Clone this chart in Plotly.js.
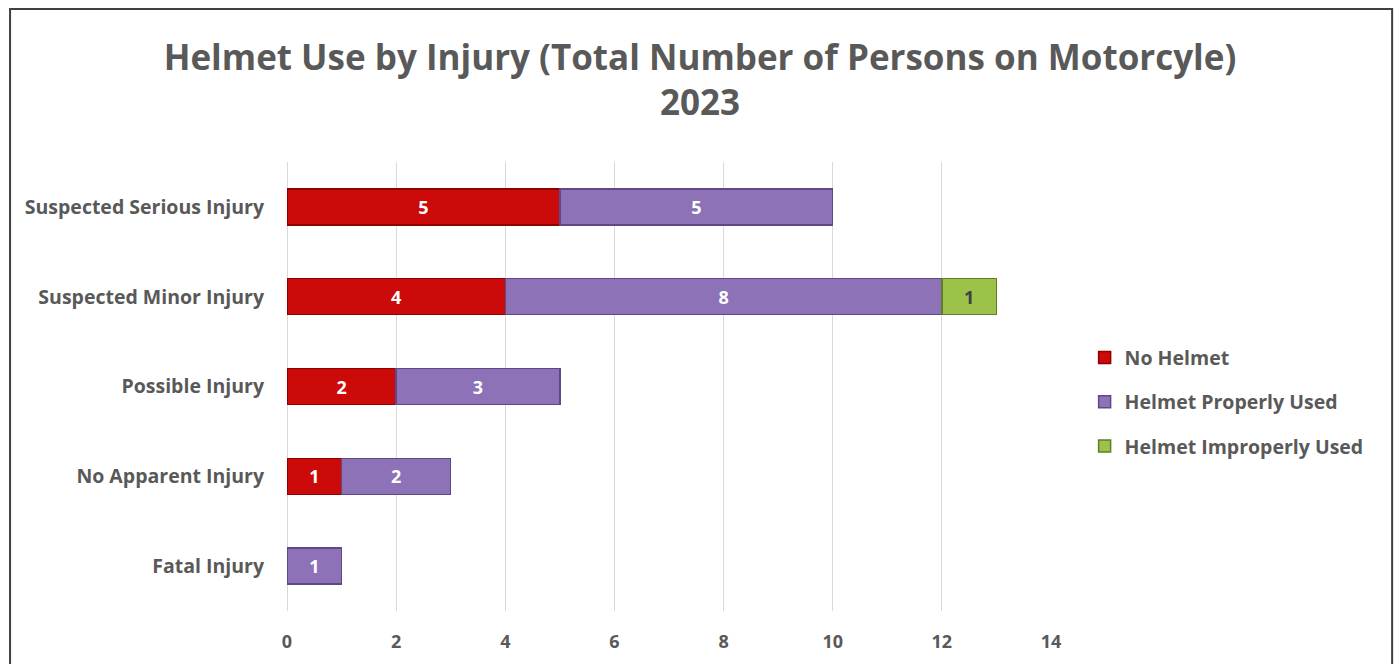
<!DOCTYPE html>
<html><head><meta charset="utf-8">
<script src="https://cdn.plot.ly/plotly-3.0.1.min.js"></script>
<style>html,body{margin:0;padding:0;background:#fff;}#chart{width:1400px;height:664px;}</style>
</head><body><div id="chart"></div>
<script>
const categories = ["Fatal Injury","No Apparent Injury","Possible Injury","Suspected Minor Injury","Suspected Serious Injury"];
const noHelmet = [null,1,2,4,5];
const helmetProper = [1,2,3,8,5];
const helmetImproper = [null,null,null,1,null];
const seriesNames = ["No Helmet","Helmet Properly Used","Helmet Improperly Used"];
const xTicks = [0,2,4,6,8,10,12,14];

const FONT = "Open Sans, Lato, sans-serif";
function mk(vals, name, color, line, textColor){
  return {type:'bar', orientation:'h', y:categories, x:vals, name:name, legendgroup:name,
    marker:{color:color, line:{color:line, width:1.5}},
    texttemplate:'%{x}', textposition:'inside', insidetextanchor:'middle',
    textfont:{color:textColor, size:18, family:FONT, weight:'bold'},
    hoverinfo:'x+name'};
}
const data = [
  mk(noHelmet, seriesNames[0], '#cc0a0a', '#8e0000', '#ffffff'),
  mk(helmetProper, seriesNames[1], '#8d72b8', '#5e4887', '#ffffff'),
  mk(helmetImproper, seriesNames[2], '#9cc24a', '#5f7e26', '#404040')
];
const layout = {
  width:1400, height:664, barmode:'stack', bargap:0.6,
  margin:{l:287, r:349, t:162, b:53},
  paper_bgcolor:'#ffffff', plot_bgcolor:'#ffffff',
  font:{family:FONT, color:'#595959'},
  title:{text:'Helmet Use by Injury (Total Number of Persons on Motorcyle)<br>2023',
    x:0.5, xanchor:'center', y:0.895, yanchor:'middle',
    font:{size:35, family:FONT, color:'#595959', weight:'bold'}},
  xaxis:{range:[0,14], tickvals:xTicks, showgrid:true, gridcolor:'#d9d9d9', gridwidth:1,
    zeroline:true, zerolinecolor:'#d9d9d9', showline:false, ticks:'', ticklabelstandoff:18,
    tickfont:{size:18, family:FONT, color:'#595959', weight:'bold'}, fixedrange:true},
  yaxis:{type:'category', categoryorder:'array', categoryarray:categories, showgrid:false,
    showline:false, ticks:'', ticklabelstandoff:22,
    tickfont:{size:19.5, family:FONT, color:'#595959', weight:'bold'}},
  legend:{x:1.044, y:0.465, xanchor:'left', yanchor:'middle', traceorder:'grouped',
    font:{size:19.5, family:FONT, color:'#595959', weight:'bold'}, tracegroupgap:16,
    itemwidth:30},
  showlegend:true,
  shapes:[{type:'rect', xref:'paper', yref:'paper', x0:-0.3625, x1:1.4465, y0:-0.2, y1:1.341,
    line:{color:'#404040', width:2}, fillcolor:'rgba(0,0,0,0)', layer:'above'}]
};
Plotly.newPlot('chart', data, layout, {displayModeBar:false, responsive:false});
</script></body></html>
